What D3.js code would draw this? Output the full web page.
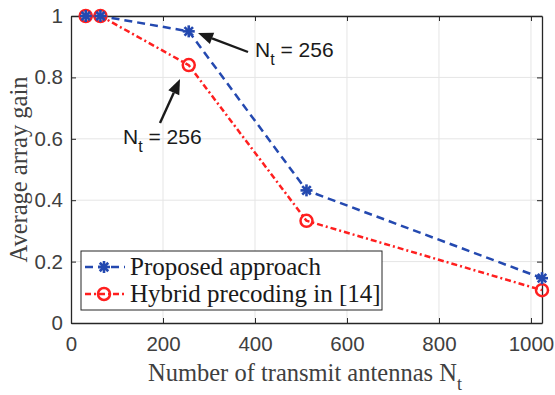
<!DOCTYPE html>
<html>
<head>
<meta charset="utf-8">
<script src="https://cdn.jsdelivr.net/npm/d3@7"></script>
<style>
  body { margin: 0; background: #fff; }
  svg { display: block; }
</style>
</head>
<body>
<div id="chart"></div>
<script>
// data
var antennas = [32, 64, 256, 512, 1024]
var proposed = [1, 1, 0.95, 0.432, 0.146]
var hybrid = [1, 1, 0.84, 0.333, 0.107]
var xTicks = [0, 200, 400, 600, 800, 1000]
var yTicks = [0, 0.2, 0.4, 0.6, 0.8, 1]
var seriesNames = ['Proposed approach', 'Hybrid precoding in [14]']

var W = 555, H = 395
var margin = { top: 16, left: 71, right: 13, bottom: 72 }
var width = W - margin.left - margin.right
var height = H - margin.top - margin.bottom

var svg = d3.select('#chart').append('svg')
  .attr('width', W).attr('height', H)
var g = svg.append('g')
  .attr('transform', 'translate(' + margin.left + ',' + margin.top + ')')

var x = d3.scaleLinear().domain([0, 1024]).range([0, width])
var y = d3.scaleLinear().domain([0, 1]).range([height, 0])

var axisColor = '#262626'
var tickFont = 'Liberation Sans, Arial, sans-serif'
var serif = 'Liberation Serif, Times New Roman, serif'

// grid
g.append('g').selectAll('line').data(xTicks.slice(1)).enter().append('line')
  .attr('x1', d => x(d)).attr('x2', d => x(d))
  .attr('y1', 0).attr('y2', height)
  .attr('stroke', '#e5e5e5').attr('stroke-width', 1)
g.append('g').selectAll('line').data(yTicks.slice(1)).enter().append('line')
  .attr('y1', d => y(d)).attr('y2', d => y(d))
  .attr('x1', 0).attr('x2', width)
  .attr('stroke', '#e5e5e5').attr('stroke-width', 1)

// axes (MATLAB style: ticks inside, box on)
function styleAxis(sel) {
  sel.attr('font-size', 20.5).attr('font-family', tickFont)
  sel.select('.domain').attr('stroke', axisColor).attr('stroke-width', 1.3)
  sel.selectAll('.tick line').attr('stroke', axisColor)
  sel.selectAll('.tick text').attr('fill', '#404040')
}
g.append('g').attr('transform', 'translate(0,' + height + ')')
  .call(d3.axisBottom(x).tickValues(xTicks).tickFormat(d3.format('d')).tickSizeInner(-5).tickSizeOuter(0).tickPadding(13))
  .call(styleAxis)
g.append('g')
  .call(d3.axisLeft(y).tickValues(yTicks).tickFormat(d3.format('~g')).tickSizeInner(-5).tickSizeOuter(0).tickPadding(8))
  .call(styleAxis)
g.append('g')
  .call(d3.axisTop(x).tickValues(xTicks).tickSizeInner(-5).tickSizeOuter(0).tickFormat(''))
  .call(styleAxis)
g.append('g').attr('transform', 'translate(' + width + ',0)')
  .call(d3.axisRight(y).tickValues(yTicks).tickSizeInner(-5).tickSizeOuter(0).tickFormat(''))
  .call(styleAxis)

// axis labels
var xl = svg.append('text')
  .attr('x', 148).attr('y', 381)
  .attr('fill', '#404040')
  .attr('font-family', serif).attr('font-size', 24.5)
xl.append('tspan').text('Number of transmit antennas N')
xl.append('tspan').attr('dy', 9).attr('font-size', 18).text('t')

svg.append('text')
  .attr('transform', 'translate(27,' + (margin.top + height / 2) + ') rotate(-90)')
  .attr('text-anchor', 'middle')
  .attr('fill', '#404040')
  .attr('font-family', serif).attr('font-size', 24.5)
  .text('Average array gain')

var blue = '#2449b0', red = '#ff1f1f'

var line = d3.line()
  .x((d, i) => x(antennas[i]))
  .y(d => y(d))

g.append('path').datum(proposed).attr('d', line)
  .attr('fill', 'none').attr('stroke', blue).attr('stroke-width', 2.5)
  .attr('stroke-dasharray', '8,5')
g.append('path').datum(hybrid).attr('d', line)
  .attr('fill', 'none').attr('stroke', red).attr('stroke-width', 2.5)
  .attr('stroke-dasharray', '6,3,2,3')

function star(sel, cx, cy) {
  var r = 6
  ;[0, 45, 90, 135].forEach(function (a) {
    var rad = a * Math.PI / 180
    sel.append('line')
      .attr('x1', cx - r * Math.cos(rad)).attr('y1', cy - r * Math.sin(rad))
      .attr('x2', cx + r * Math.cos(rad)).attr('y2', cy + r * Math.sin(rad))
      .attr('stroke', blue).attr('stroke-width', 2.6)
  })
}
function circle(sel, cx, cy) {
  sel.append('circle').attr('cx', cx).attr('cy', cy).attr('r', 6)
    .attr('fill', 'none').attr('stroke', red).attr('stroke-width', 2.5)
}

var mk = g.append('g')
hybrid.forEach((d, i) => circle(mk, x(antennas[i]), y(d)))
proposed.forEach((d, i) => star(mk, x(antennas[i]), y(d)))

// annotations
function arrow(x1, y1, x2, y2) {
  var ang = Math.atan2(y2 - y1, x2 - x1)
  var len = 15, wid = 6
  var bx = x2 - len * Math.cos(ang), by = y2 - len * Math.sin(ang)
  svg.append('line').attr('x1', x1).attr('y1', y1).attr('x2', bx).attr('y2', by)
    .attr('stroke', '#1a1a1a').attr('stroke-width', 2.4)
  var px = -Math.sin(ang) * wid, py = Math.cos(ang) * wid
  svg.append('path')
    .attr('d', 'M' + x2 + ',' + y2 + 'L' + (bx + px) + ',' + (by + py) + 'L' + (bx - px) + ',' + (by - py) + 'Z')
    .attr('fill', '#1a1a1a')
}
function ntLabel(tx, ty) {
  var t = svg.append('text').attr('x', tx).attr('y', ty)
    .attr('fill', '#1a1a1a').attr('font-family', tickFont).attr('font-size', 21)
  t.append('tspan').text('N')
  t.append('tspan').attr('dy', 8).attr('font-size', 16).text('t')
  t.append('tspan').attr('dy', -8).text(' = 256')
}
arrow(248, 52, 198, 33)
ntLabel(255, 57)
arrow(160, 123, 180, 79)
ntLabel(123, 144)

// legend
var lg = svg.append('g').attr('transform', 'translate(81,251)')
lg.append('rect').attr('width', 301).attr('height', 59)
  .attr('fill', '#fff').attr('stroke', axisColor).attr('stroke-width', 1)
var rows = lg.selectAll('g.row').data(seriesNames).enter().append('g')
  .attr('transform', (d, i) => 'translate(0,' + (16 + i * 27) + ')')
rows.append('line').attr('x1', 4).attr('x2', 44).attr('y1', 0).attr('y2', 0)
  .attr('stroke', (d, i) => i ? red : blue).attr('stroke-width', 2.5)
  .attr('stroke-dasharray', (d, i) => i ? '6,3,2,3' : '8,5')
rows.each(function (d, i) {
  var s = d3.select(this)
  if (i) circle(s, 23, 0); else star(s, 23, 0)
})
rows.append('text').attr('x', 49).attr('y', 8)
  .attr('fill', '#1a1a1a').attr('font-family', serif).attr('font-size', 25)
  .text(d => d)
</script>
</body>
</html>
